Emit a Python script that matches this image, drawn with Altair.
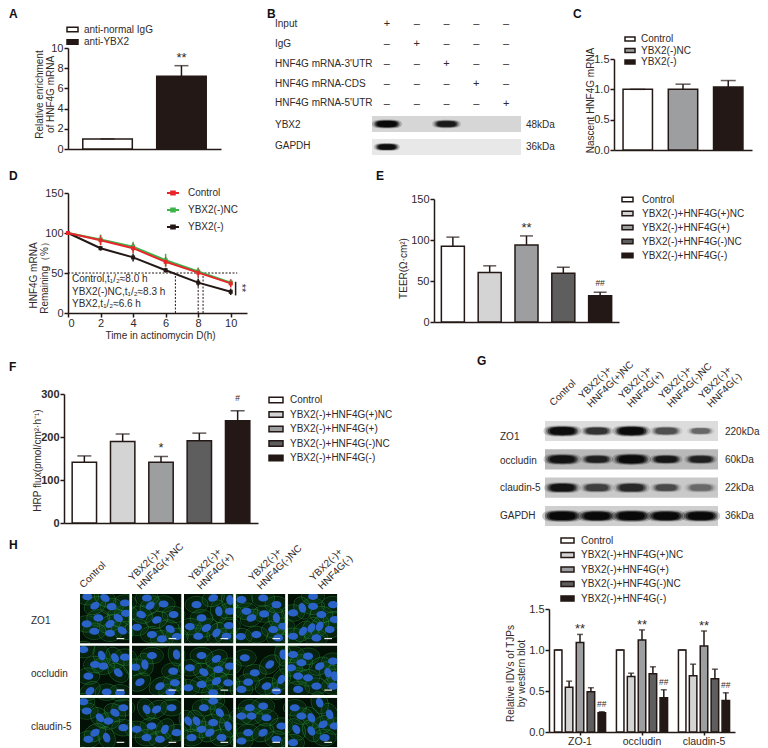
import altair as alt
import pandas as pd

DARK = "#231815"
TXT = "#2f2a29"
FONT = "Liberation Sans"
EMPTY = alt.Data(values=[{"a": 0}])
RECT = "M-1,-0.4H1V0.4H-1Z"
W, H = 752, 740
OX, OY = 8, 8

CATS5 = ["Control", "YBX2(-)+HNF4G(+)NC", "YBX2(-)+HNF4G(+)", "YBX2(-)+HNF4G(-)NC", "YBX2(-)+HNF4G(-)"]
COL5 = ["#ffffff", "#d4d4d4", "#9d9ea0", "#5e5e5e", DARK]

# Panel A
a_cats = ["anti-normal IgG", "anti-YBX2"]
a_vals = [1.0, 7.2]
a_caps = [1.0, 8.25]
a_marks = ["", "**"]
# Panel C
c_cats = ["Control", "YBX2(-)NC", "YBX2(-)"]
c_vals = [1.0, 1.0, 1.04]
c_caps = [1.0, 1.085, 1.145]
# Panel D
d_series = ["YBX2(-)NC", "YBX2(-)", "Control"]
d_order = ["Control", "YBX2(-)NC", "YBX2(-)"]
d_time = [0, 2, 4, 6, 8, 10]
d_vals = {
    "Control": [100, 91, 81, 64, 50.5, 37],
    "YBX2(-)NC": [100, 92, 83, 66, 52, 38],
    "YBX2(-)": [100, 81, 69.5, 53.5, 38, 26.5],
}
d_errs = {
    "Control": [0, 6, 6, 6, 5, 5],
    "YBX2(-)NC": [0, 6, 6, 8, 5, 4],
    "YBX2(-)": [0, 3, 5, 3, 5, 4],
}
# Panel E
e_vals = [92.5, 60.3, 94, 59.5, 32]
e_caps = [103.5, 68.5, 105, 66.8, 36.3]
e_marks = ["", "", "**", "", "##"]
# Panel F
f_vals = [141.5, 189.6, 141.5, 191, 238]
f_caps = [156, 207, 154.7, 209, 261]
f_marks = ["", "", "*", "", "#"]
# Panel G bars
g_groups = ["ZO-1", "occludin", "claudin-5"]
g_vals = [[1.0, .547, 1.09, .49, .235], [1.0, .677, 1.123, .71, .418], [1.0, .685, 1.05, .649, .385]]
g_caps = [[1.0, .62, 1.19, .54, .247], [1.0, .717, 1.245, .795, .515], [1.0, .827, 1.232, .766, .478]]
g_marks = [["", "", "**", "", "##"], ["", "", "**", "", "##"], ["", "", "**", "", "##"]]
# Panel B
b_rows = ["Input", "IgG", "HNF4G mRNA-3'UTR", "HNF4G mRNA-CDS", "HNF4G mRNA-5'UTR"]
b_signs = [list("+----"), list("-+---"), list("--+--"), list("---+-"), list("----+")]
b_blots = ["YBX2", "GAPDH"]
b_kda = ["48kDa", "36kDa"]
b_strength = [[1, 0, .8, 0, 0], [.95, 0, 0, 0, 0]]
b_width = [[23, 0, 22, 0, 0], [20, 0, 0, 0, 0]]
b_back = ["#d6d6d6", "#e8e8e8"]
# Panel G blot
gb_rows = ["ZO1", "occludin", "claudin-5", "GAPDH"]
gb_kda = ["220kDa", "60kDa", "22kDa", "36kDa"]
gb_strength = [[.95, .6, 1, .45, .35], [.85, .7, .95, .8, .7], [.85, .5, .65, .45, .3], [1, 1, 1, 1, 1]]
gb_width = [[29, 25, 29, 25, 21], [29, 25, 30, 25, 25], [28, 26, 28, 24, 25], [31, 30, 31, 30, 30]]
gb_back = ["#dcdcdc", "#b9b9b9", "#c9c9c9", "#cfcfcf"]
gb_heads = [["Control"], ["YBX2(-)+", "HNF4G(+)NC"], ["YBX2(-)+", "HNF4G(+)"], ["YBX2(-)+", "HNF4G(-)NC"], ["YBX2(-)+", "HNF4G(-)"]]
gb_head_x = [552, 587, 627, 667, 707]
# Panel H nuclei: x, y, angle inside each micrograph
h_rows = ["ZO1", "occludin", "claudin-5"]
h_head_x = [82, 137, 197, 257, 318]
h_nuclei = [
    [
        [(75,12,30),(135,27,0),(45,35,-30),(95,38,0),(138,58,0),(55,72,0),(115,72,30),(90,90,-30),(43,112,0),(90,118,0),(127,110,30),(22,8,0),(20,90,0)],
        [(45,12,0),(55,35,-40),(28,62,20),(75,78,-20),(125,62,0),(95,30,0),(15,100,0),(60,122,0),(115,105,30),(135,128,0),(90,135,0)],
        [(88,12,-20),(138,18,80),(38,32,0),(105,52,80),(53,72,0),(138,52,0),(135,95,0),(18,98,0),(68,102,-30),(98,117,-50),(128,127,0),(43,127,0)],
        [(82,12,0),(32,52,0),(17,17,0),(122,32,0),(47,72,-20),(122,72,80),(15,128,0),(62,122,0),(112,107,0),(127,132,0),(142,97,0),(85,60,0)],
        [(76,7,0),(44,42,70),(76,37,0),(16,57,0),(101,62,0),(136,32,0),(96,97,-60),(46,112,-50),(71,102,-60),(126,107,0),(16,127,0),(86,132,0),(141,77,0)],
    ],
    [
        [(10,12,0),(65,30,70),(105,37,60),(45,57,0),(70,62,0),(115,82,40),(135,35,0),(25,92,0),(30,137,-40),(80,140,0),(120,142,0)],
        [(39,57,80),(24,110,-30),(84,122,-30),(129,112,0),(124,77,0),(134,27,80),(60,30,0),(115,140,0),(10,65,0)],
        [(53,30,0),(98,40,-30),(18,67,0),(60,80,30),(103,72,0),(138,62,0),(13,127,0),(53,117,0),(98,107,-30),(133,112,0),(88,142,0)],
        [(27,37,0),(102,57,-40),(142,27,80),(57,82,0),(37,110,0),(92,122,-20),(137,102,-60),(17,132,0),(122,137,0)],
        [(16,27,0),(61,32,0),(41,52,0),(96,62,-30),(136,47,0),(31,92,0),(61,97,0),(121,82,70),(141,92,70),(86,122,0),(31,132,0),(136,122,0),(10,67,0)],
    ],
    [
        [(20,40,0),(10,12,0),(60,60,50),(85,70,0),(105,45,30),(45,105,-30),(80,120,70),(25,125,0),(130,30,0),(130,90,0)],
        [(44,35,60),(74,35,-30),(119,30,0),(59,85,0),(14,95,0),(99,95,-60),(84,125,0),(134,105,0),(44,120,0)],
        [(88,10,0),(13,70,60),(38,70,60),(53,95,0),(78,105,-30),(108,45,50),(88,75,0),(23,120,0),(113,120,0),(133,85,70),(60,30,0)],
        [(82,25,0),(42,30,0),(17,55,0),(47,55,0),(92,60,0),(37,105,0),(82,105,-30),(122,125,0),(17,130,0),(137,85,0)],
        [(21,30,0),(96,15,70),(126,50,70),(41,55,0),(71,60,60),(106,80,-30),(26,95,60),(71,100,60),(141,85,0),(111,120,0),(16,135,0)],
    ],
]


def note(text, x, y, **kw):
    opts = dict(font=FONT, fontSize=10, color=TXT, align="left", baseline="middle")
    opts.update(kw)
    return alt.Chart(EMPTY).mark_text(text=text, **opts).encode(x=alt.value(x - OX), y=alt.value(y - OY))


def letter(text, x, y):
    return note(text, x, y, fontSize=12, fontWeight="bold", baseline="top", color="#111111")


def head(t, x, y):
    if len(t) == 2:
        return note(t, x - 3, y - 5, angle=315, baseline="bottom")
    return note(t, x + 3, y + 2, angle=315, baseline="bottom")


def y_axis(L, T, ticks, title, tx, ty, fmt="d", bold=False, fs=11):
    return alt.Axis(orient="left", offset=-(L - OX), values=ticks, format=fmt, title=title, titleX=tx, titleY=T - OY + ty,
                    titleAngle=270, titleBaseline="middle", titleAlign="center", titleFontSize=10,
                    titleFontWeight="normal", titleFont=FONT, titleColor=TXT, titleLineHeight=11,
                    labelFontSize=fs, labelFont=FONT, labelColor=TXT, labelPadding=1,
                    labelFontWeight="bold" if bold else "normal",
                    tickSize=4, tickWidth=1.5, tickColor=DARK, domainWidth=1.5, domainColor=DARK,
                    grid=False)


def box_legend(sx, sy, row_pad, size, off):
    return alt.Legend(orient="none", legendX=sx - OX, legendY=sy - OY, title=None, symbolType=RECT,
                      symbolSize=size, symbolStrokeColor=DARK, symbolStrokeWidth=1.5,
                      labelFontSize=10, labelFont=FONT, labelColor=TXT, rowPadding=row_pad,
                      labelOffset=off, padding=0, symbolOpacity=1)


def sign_layers(base, X, Y, star_size, star_dy, hash_dy, xoff=None):
    enc = dict(x=X, y=Y, text="m:N")
    if xoff is not None:
        enc["xOffset"] = xoff
    stars = base.transform_filter("indexof(datum.m, '*') >= 0").mark_text(
        font=FONT, fontSize=star_size, color=TXT, baseline="bottom", dy=star_dy).encode(**enc)
    hashes = base.transform_filter("indexof(datum.m, '#') >= 0").mark_text(
        font=FONT, fontSize=8.5, color=TXT, baseline="bottom", dy=hash_dy).encode(**enc)
    return [stars, hashes]


def bar_panel(L, T, w, h, cats, vals, caps, marks, colors, ymax, ticks, title, tx, ty, pi, po, leg,
              cap=13, fmt="d", bold=False, fs=11, hash_dy=-4):
    df = pd.DataFrame({"c": cats, "v": vals, "hi": caps, "m": marks})
    X = alt.X("c:N", sort=cats,
              scale=alt.Scale(domain=cats, range=[L - OX, L - OX + w], paddingInner=pi, paddingOuter=po),
              axis=alt.Axis(orient="bottom", offset=-(H - (T - OY + h)), labels=False, ticks=False, title=None,
                            domainWidth=1.5, domainColor=DARK, grid=False))
    YS = alt.Scale(domain=[0, ymax], range=[T - OY + h, T - OY], nice=False)
    base = alt.Chart(df)
    bars = base.mark_bar(stroke=DARK, strokeWidth=1.5).encode(
        x=X, y=alt.Y("v:Q", scale=YS, axis=y_axis(L, T, ticks, title, tx, ty, fmt, bold, fs)),
        color=alt.Color("c:N", sort=cats, scale=alt.Scale(domain=cats, range=colors), legend=leg))
    rule = base.mark_rule(color=DARK, strokeWidth=1.5).encode(x=X, y=alt.Y("v:Q", scale=YS), y2="hi:Q")
    tick = base.mark_tick(orient="horizontal", color=DARK, size=cap, thickness=1.5).encode(
        x=X, y=alt.Y("hi:Q", scale=YS))
    return alt.layer(bars, rule, tick, *sign_layers(base, X, alt.Y("hi:Q", scale=YS), 13, -1, hash_dy))


def blot(L, w, rows, strengths, widths, backs, lanes, yrange, pi):
    XS = alt.Scale(domain=lanes, range=[L - OX, L - OX + w], paddingInner=0, paddingOuter=0)
    YS = alt.Scale(domain=rows, range=[yrange[0] - OY, yrange[1] - OY], paddingInner=pi, paddingOuter=0)
    back = alt.Chart(pd.DataFrame({"r": rows, "b": backs})).mark_rect().encode(
        x=alt.value(L - OX), x2=alt.value(L - OX + w), y=alt.Y("r:N", scale=YS, axis=None),
        color=alt.Color("b:N", scale=None))
    recs = []
    for r, ss, ws in zip(rows, strengths, widths):
        for l, s, wd in zip(lanes, ss, ws):
            if s > 0:
                recs.append({"r": r, "l": l, "s": s, "w": wd})
    path = "M-1,0C-1,-.25 -.7,-.3 0,-.3C.7,-.3 1,-.25 1,0C1,.25 .7,.3 0,.3C-.7,.3 -1,.25 -1,0Z"
    out = [back]
    for f, o in [(1.3, .22), (1.12, .35), (1.0, .55), (.85, .8)]:
        d = pd.DataFrame(recs)
        d["sz"] = (d["w"] * f) ** 2
        d["op"] = d["s"] * o
        out.append(alt.Chart(d).mark_point(shape=path, filled=True, color="#000000", strokeWidth=0).encode(
            x=alt.X("l:N", scale=XS, axis=None), y=alt.Y("r:N", scale=YS, axis=None),
            size=alt.Size("sz:Q", scale=None), opacity=alt.Opacity("op:Q", scale=None)))
    return alt.layer(*out)


parts = []

# ---------- A
parts.append(bar_panel(68, 48, 153, 101, a_cats, a_vals, a_caps, a_marks, ["#ffffff", DARK], 10, [0, 2, 4, 6, 8, 10],
                       ["Relative enrichment", "of HNF4G mRNA"], -29, 46, .33, .2,
                       box_legend(66, 23, .5, 121, 5), cap=14))
parts.append(letter("A", 9, 9))

# ---------- B
lanes = ["1", "2", "3", "4", "5"]
sign_df = pd.DataFrame([{"r": r, "l": l, "t": "+" if s == "+" else "–"}
                        for r, ss in zip(b_rows, b_signs) for l, s in zip(lanes, ss)])
parts.append(alt.Chart(sign_df).mark_text(font=FONT, fontSize=11, color=TXT).encode(
    x=alt.X("l:N", scale=alt.Scale(domain=lanes, range=[372 - OX, 521 - OX], paddingInner=0, paddingOuter=0), axis=None),
    y=alt.Y("r:N", scale=alt.Scale(domain=b_rows, range=[14 - OY, 114 - OY]), axis=None),
    text="t:N"))
parts.append(blot(372, 149, b_blots, b_strength, b_width, b_back, lanes, [116, 155], .3))
parts += [note(t, 275, y) for t, y in zip(b_rows, [24, 44, 64, 84, 103])]
parts += [note(t, 275, y) for t, y in zip(b_blots, [125, 146])]
parts += [note(t, 526, y) for t, y in zip(b_kda, [125, 147])]
parts.append(letter("B", 267, 9))

# ---------- C
parts.append(bar_panel(614, 59, 138, 91, c_cats, c_vals, c_caps, ["", "", ""], ["#ffffff", "#9d9ea0", DARK], 1.5,
                       [0, .5, 1, 1.5], "Nascent HNF4G mRNA", -24, 41, .35, .2,
                       box_legend(624, 33, 0.5, 100, 5), cap=15, fmt=".1f"))
parts.append(letter("C", 573, 9))

# ---------- D
L, T = 68, 193
d_recs = [{"s": s, "t": t, "v": v, "lo": v - e, "hi": v + e}
          for s in d_series for t, v, e in zip(d_time, d_vals[s], d_errs[s])]
d_df = pd.DataFrame(d_recs)
DX = alt.Scale(domain=[0, 11], range=[L - OX, L - OX + 179], nice=False)
DY = alt.Scale(domain=[0, 150], range=[T - OY + 120, T - OY], nice=False)
d_col = alt.Scale(domain=d_order, range=["#e8262a", "#3cb44a", DARK])
xd = alt.X("t:Q", scale=DX, axis=alt.Axis(
    orient="bottom", offset=-(H - (T - OY + 120)), values=d_time, format="d", title="Time in actinomycin D(h)",
    titleX=152, titleY=22, titleFontSize=10, titleFontWeight="normal", titleFont=FONT, titleColor=TXT,
    titleBaseline="middle", labelFontSize=11, labelFont=FONT, labelColor=TXT, labelPadding=0, tickSize=4,
    tickWidth=1.5, tickColor=DARK, domainWidth=1.5, domainColor=DARK, grid=False))
yd = alt.Y("v:Q", scale=DY, axis=y_axis(L, T, [0, 50, 100, 150], ["HNF4G mRNA", "Remaining（%）"], -35, 82))
LINE_SYM = "M-1,0H-.3V-.25H.3V.25H-.3V0M.3,0H1"
d_leg = alt.Legend(orient="none", legendX=166 - OX, legendY=186 - OY, title=None, symbolType=LINE_SYM, symbolSize=144,
                   labelFontSize=10, labelFont=FONT, labelColor=TXT, rowPadding=4, labelOffset=8, padding=0,
                   symbolStrokeWidth=2)
d_color = alt.Color("s:N", scale=d_col, legend=d_leg)
d_base = alt.Chart(d_df)
d_line = d_base.mark_line(strokeWidth=2).encode(x=xd, y=yd, color=d_color, detail="s:N")
d_rule = d_base.mark_rule(strokeWidth=1.5).encode(x=xd, y=alt.Y("lo:Q", scale=DY), y2="hi:Q", color=d_color)
d_point = d_base.mark_point(filled=True, shape="square", size=16, opacity=1).encode(x=xd, y=yd, color=d_color)
guide_h = alt.Chart(pd.DataFrame({"a": [0], "b": [10.4], "y": [50]})).mark_rule(
    color=DARK, strokeDash=[2, 1.5], strokeWidth=1).encode(x=alt.X("a:Q", scale=DX), x2="b:Q", y=alt.Y("y:Q", scale=DY))
guide_v = alt.Chart(pd.DataFrame({"x": [6.6, 8.0, 8.3], "a": [0, 0, 0], "b": [50, 50, 50]})).mark_rule(
    color=DARK, strokeDash=[2, 1.5], strokeWidth=1).encode(x=alt.X("x:Q", scale=DX), y=alt.Y("a:Q", scale=DY), y2="b:Q")
bracket = alt.Chart(pd.DataFrame({"x": [10.3], "a": [22], "b": [39]})).mark_rule(
    color=DARK, strokeWidth=1.5).encode(x=alt.X("x:Q", scale=DX), y=alt.Y("a:Q", scale=DY), y2="b:Q")
parts.append(alt.layer(guide_h, guide_v, d_line, d_rule, d_point, bracket))
d_text = ["Control,t₁/₂≈8.0 h", "YBX2(-)NC,t₁/₂≈8.3 h", "YBX2,t₁/₂≈6.6 h"]
parts += [note(t, 72, y) for t, y in zip(d_text, [279, 292, 304])]
parts.append(note("**", 241, 288, angle=90, fontSize=11, align="center"))
parts.append(letter("D", 9, 171))

# ---------- E
parts.append(bar_panel(434, 199, 185, 123, CATS5, e_vals, e_caps, e_marks, COL5, 150, [0, 50, 100, 150],
                       "TEER(Ω·cm²)", -31, 69, .375, .2, box_legend(621, 193, 2, 121, 8), cap=13, hash_dy=-4))
parts.append(letter("E", 376, 171))

# ---------- F
parts.append(bar_panel(64, 394, 194, 129, CATS5, f_vals, f_caps, f_marks, COL5, 300, [0, 100, 200, 300],
                       "HRP flux(pmol/cm²·h⁻¹)", -27, 66, .364, .213, box_legend(268, 392, .5, 196, 6),
                       cap=14, bold=True, hash_dy=-8))
parts.append(letter("F", 9, 362))

# ---------- G blot
parts.append(blot(545, 173, gb_rows, gb_strength, gb_width, gb_back, lanes, [421, 526], .29))
parts += [note(t, 500, y) for t, y in zip(gb_rows, [437, 461, 488, 516])]
parts += [note(t, 725, y) for t, y in zip(gb_kda, [432, 460, 488, 516])]
parts += [head(t, x, 406) for t, x in zip(gb_heads, gb_head_x)]
parts.append(letter("G", 477, 356))

# ---------- G bars
L, T = 549, 609
g_recs = []
for g, vv, cc, mm in zip(g_groups, g_vals, g_caps, g_marks):
    for c, v, hi, m in zip(CATS5, vv, cc, mm):
        g_recs.append({"g": g, "c": c, "v": v, "hi": hi, "m": m})
g_df = pd.DataFrame(g_recs)
GX = alt.X("g:N", sort=g_groups,
           scale=alt.Scale(domain=g_groups, range=[L - OX, L - OX + 186], paddingInner=.14, paddingOuter=.07),
           axis=alt.Axis(orient="bottom", offset=-(H - (T - OY + 123)), title=None, labelAngle=0, labelFontSize=10.5,
                         labelFont=FONT, labelColor=TXT, labelPadding=1,
                         tickSize=3, tickWidth=1.5, tickColor=DARK, domainWidth=1.5, domainColor=DARK, grid=False))
GO = alt.XOffset("c:N", sort=CATS5, scale=alt.Scale(domain=CATS5, paddingInner=.31, paddingOuter=.1))
GY = alt.Scale(domain=[0, 1.5], range=[T - OY + 123, T - OY], nice=False)
g_base = alt.Chart(g_df)
g_bars = g_base.mark_bar(stroke=DARK, strokeWidth=1.5).encode(
    x=GX, xOffset=GO,
    y=alt.Y("v:Q", scale=GY, axis=y_axis(L, T, [0, .5, 1, 1.5], ["Relative IDVs of TJPs", "by western blot"], -39, 64, ".1f")),
    color=alt.Color("c:N", sort=CATS5, scale=alt.Scale(domain=CATS5, range=COL5), legend=box_legend(560, 533, .5, 169, 6)))
g_rule = g_base.mark_rule(color=DARK, strokeWidth=1.5).encode(x=GX, xOffset=GO, y=alt.Y("v:Q", scale=GY), y2="hi:Q")
g_tick = g_base.mark_tick(orient="horizontal", color=DARK, size=6, thickness=1.5).encode(
    x=GX, xOffset=GO, y=alt.Y("hi:Q", scale=GY))
parts.append(alt.layer(g_bars, g_rule, g_tick, *sign_layers(g_base, GX, alt.Y("hi:Q", scale=GY), 13, 2, -3, GO)))

# ---------- H
L, T = 80, 594
HX = alt.Scale(domain=[0, 772], range=[L - OX, L - OX + 257], nice=False)
HY = alt.Scale(domain=[0, 460], range=[T - OY, T - OY + 153], nice=False)
LANE, ROW = 156, [0, 155, 312]
cells, nuc = [], []
for r, row in enumerate(h_nuclei):
    for c, pts in enumerate(row):
        ox, oy = c * LANE, ROW[r]
        cells.append({"x": ox, "x2": ox + 149, "y": oy, "y2": oy + 149,
                      "sx": ox + 110, "sx2": ox + 133, "sy": oy + 134})
        for px, py, ang in pts:
            nuc.append({"x": ox + px, "y": oy + py, "a": ang})
cells_df, nuc_df = pd.DataFrame(cells), pd.DataFrame(nuc)
EL = "M-1,0C-1,-.39 -.55,-.72 0,-.72C.55,-.72 1,-.39 1,0C1,.39 .55,.72 0,.72C-.55,.72 -1,.39 -1,0Z"
hx = alt.X("x:Q", scale=HX, axis=None)
hy = alt.Y("y:Q", scale=HY, axis=None)
hang = alt.Angle("a:Q", scale=None)
h_bg = alt.Chart(cells_df).mark_rect(color="#031006").encode(x=hx, x2="x2:Q", y=hy, y2="y2:Q")
h_haze = alt.Chart(nuc_df).mark_point(shape=EL, filled=True, color="#1f8a38", strokeWidth=0, opacity=.16, size=420).encode(
    x=hx, y=hy, angle=hang)
h_mem = alt.Chart(nuc_df).mark_point(shape=EL, filled=False, color="#2fa544", strokeWidth=.8, opacity=.5, size=520).encode(
    x=hx, y=hy, angle=hang)
h_nuc = alt.Chart(nuc_df).mark_point(shape=EL, filled=True, color="#2a62c8", strokeWidth=0, opacity=1, size=100).encode(
    x=hx, y=hy, angle=hang)
gap_a = [149 + LANE * i for i in range(4)] + [0, 0, -60, 773, -60, -60]
gap_b = [LANE * (i + 1) for i in range(4)] + [772, 772, 0, 840, 840, 840]
gap_c = [0] * 4 + [149, 304, 0, 0, -60, 461]
gap_d = [460] * 4 + [155, 312, 460, 460, 0, 520]
h_gap = alt.Chart(pd.DataFrame({"a": gap_a, "b": gap_b, "c": gap_c, "d": gap_d})).mark_rect(color="#ffffff").encode(
    x=alt.X("a:Q", scale=HX, axis=None), x2="b:Q", y=alt.Y("c:Q", scale=HY, axis=None), y2="d:Q")
h_scale = alt.Chart(cells_df).mark_rule(color="#e8e8e8", strokeWidth=1.2).encode(
    x=alt.X("sx:Q", scale=HX, axis=None), x2="sx2:Q", y=alt.Y("sy:Q", scale=HY, axis=None))
parts.append(alt.layer(h_bg, h_haze, h_mem, h_nuc, h_gap, h_scale))
parts += [note(t, 31, y) for t, y in zip(h_rows, [621, 674, 727])]
parts += [head(t, x, 588) for t, x in zip(gb_heads, h_head_x)]
parts.append(letter("H", 9, 540))

chart = alt.layer(*parts).resolve_scale(x="independent", y="independent", color="independent").properties(
    width=W, height=H, padding=0, background="#ffffff", autosize=alt.AutoSizeParams(type="none")
).configure_view(stroke=None)

chart.save("out.html", embed_options={"renderer": "svg", "actions": False})
